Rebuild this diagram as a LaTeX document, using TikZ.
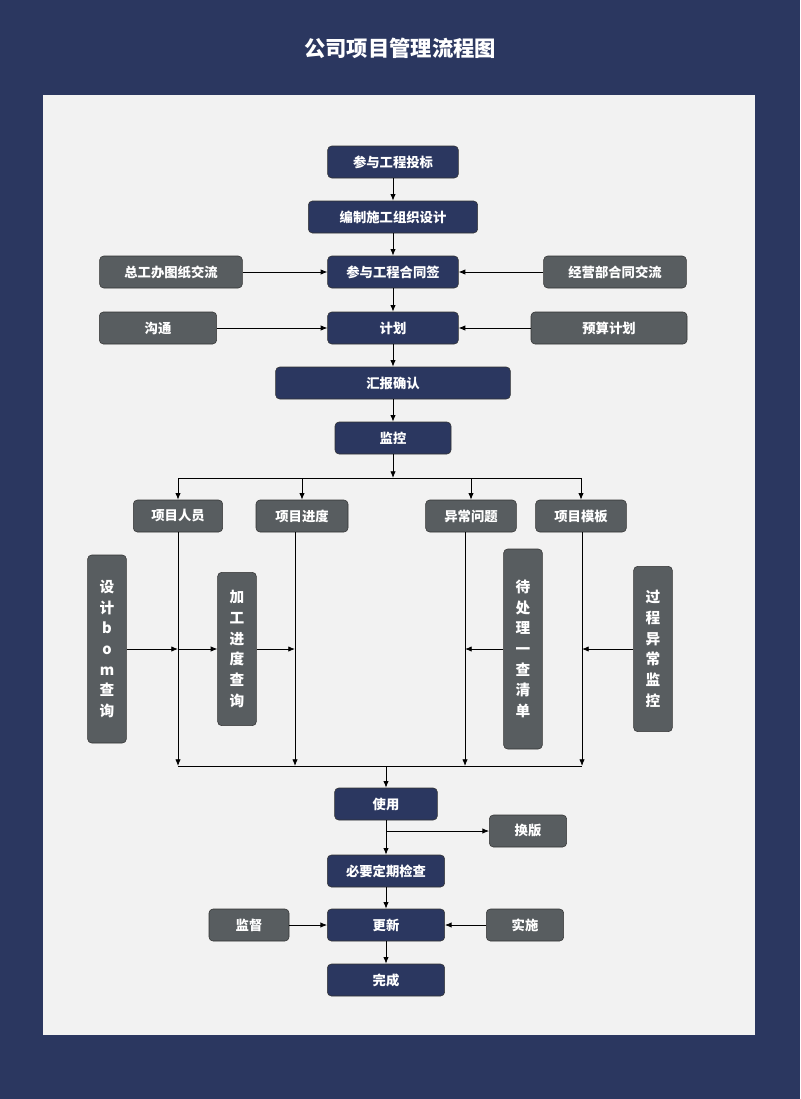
\documentclass[tikz,border=0pt]{standalone}
\usepackage{fontspec}
\setmainfont{Noto Sans CJK SC}
\usetikzlibrary{arrows.meta}
\definecolor{navy}{HTML}{2B3760}
\definecolor{gbox}{HTML}{585D60}
\definecolor{bg}{HTML}{F2F2F2}
\begin{document}
\begin{tikzpicture}[x=0.75pt,y=-0.75pt,
 nb/.style={draw=black!80,fill=navy,rounded corners=3pt,text=white,font=\bfseries\fontsize{10}{12}\selectfont,minimum height=24pt,inner sep=0pt},
 gb/.style={nb,fill=gbox},
 vb/.style={gb,minimum width=29pt,align=center,font=\bfseries\fontsize{11}{15.5}\selectfont},
 ar/.style={-{Latex[length=5pt,width=4pt]},black,line width=0.6pt},
 ln/.style={black,line width=0.6pt}]
\fill[navy] (0,0) rectangle (800,1099);
\fill[bg] (43,95) rectangle (755,1035);
\node[text=white,font=\bfseries\fontsize{16}{18}\selectfont] (title) at (400,48) {公司项目管理流程图};
\node[nb,minimum width=98pt] (a) at (393,162) {参与工程投标};
\node[nb,minimum width=127pt] (b) at (393,217) {编制施工组织设计};
\node[nb,minimum width=98pt] (c) at (393,272) {参与工程合同签};
\node[gb,minimum width=107pt] (cl) at (171,272) {总工办图纸交流};
\node[gb,minimum width=107pt] (cr) at (615,272) {经营部合同交流};
\node[nb,minimum width=98pt] (d) at (393,328) {计划};
\node[gb,minimum width=88pt] (dl) at (158,328) {沟通};
\node[gb,minimum width=117pt] (dr) at (609,328) {预算计划};
\node[nb,minimum width=176pt] (e) at (393,383) {汇报确认};
\node[nb,minimum width=87pt] (f) at (393,438) {监控};
\node[gb,minimum width=67pt] (g1) at (178,516) {项目人员};
\node[gb,minimum width=69pt] (g2) at (302,516) {项目进度};
\node[gb,minimum width=68pt] (g3) at (471,516) {异常问题};
\node[gb,minimum width=68pt] (g4) at (581,516) {项目模板};
\node[vb,minimum height=141pt] (v1) at (107,649) {设\\计\\b\\o\\m\\查\\询};
\node[vb,minimum height=115pt] (v2) at (237,649) {加\\工\\进\\度\\查\\询};
\node[vb,minimum height=150pt] (v3) at (523,649) {待\\处\\理\\一\\查\\清\\单};
\node[vb,minimum height=124pt] (v4) at (653,649) {过\\程\\异\\常\\监\\控};
\node[nb,minimum width=77pt] (h) at (386,804) {使用};
\node[gb,minimum width=58pt] (hr) at (528,831) {换版};
\node[nb,minimum width=88pt] (i) at (386,871) {必要定期检查};
\node[nb,minimum width=88pt] (j) at (386,925) {更新};
\node[gb,minimum width=60pt] (jl) at (249,925) {监督};
\node[gb,minimum width=58pt] (jr) at (525,925) {实施};
\node[nb,minimum width=88pt] (k) at (386,980) {完成};
\coordinate (t) at (393,478);
\coordinate (x1) at (178,649); \coordinate (x2) at (295,649);
\coordinate (x3) at (465,649); \coordinate (x4) at (582,649);
\coordinate (b1) at (178,766); \coordinate (b2) at (295,766);
\coordinate (b3) at (465,766); \coordinate (b4) at (582,766);
\coordinate (bm) at (386,766); \coordinate (hm) at (386,831);
\draw[ar] (a)--(b); \draw[ar] (b)--(c); \draw[ar] (c)--(d); \draw[ar] (d)--(e); \draw[ar] (e)--(f);
\draw[ar] (cl)--(c); \draw[ar] (cr)--(c); \draw[ar] (dl)--(d); \draw[ar] (dr)--(d);
\draw[ar] (f)--(t);
\draw[ln] (178,478)--(582,478);
\draw[ar] (178,478)--(g1); \draw[ar] (302,478)--(g2); \draw[ar] (471,478)--(g3); \draw[ar] (581,478)--(g4);
\draw[ar] (g1.south)--(b1); \draw[ar] (g2.south -| b2)--(b2); \draw[ar] (g3.south -| b3)--(b3); \draw[ar] (g4.south -| b4)--(b4);
\draw[ln] (b1)--(b4);
\draw[ar] (v1)--(x1); \draw[ar] (x1)--(v2); \draw[ar] (v2)--(x2);
\draw[ar] (v3)--(x3); \draw[ar] (v4)--(x4);
\draw[ar] (bm)--(h); \draw[ar] (h)--(i); \draw[ar] (hm)--(hr);
\draw[ar] (i)--(j); \draw[ar] (j)--(k); \draw[ar] (jl)--(j); \draw[ar] (jr)--(j);
\end{tikzpicture}
\end{document}
